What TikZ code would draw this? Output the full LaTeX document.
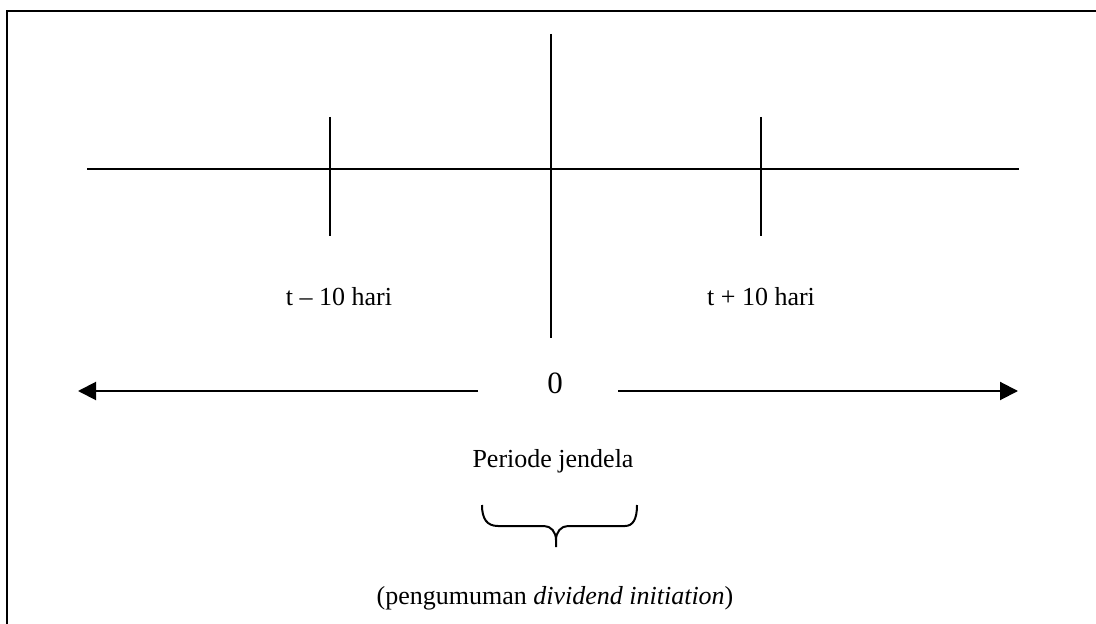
\documentclass[tikz,border=0pt]{standalone}
\usepackage{fontspec}
\setmainfont{Liberation Serif}
\usetikzlibrary{arrows.meta}
\begin{document}
\begin{tikzpicture}[x=0.5pt,y=-0.5pt,
  ln/.style={line width=1pt,black},
  frm/.style={line width=1.3pt,black},
  arr/.style={line width=1pt,-{Triangle[length=9pt,width=9pt]}},
  lbl/.style={inner sep=0pt,font=\fontsize{13}{15}\selectfont},
  brc/.style={line width=1pt}]
\useasboundingbox (0,0) rectangle (1096,624);
% frame (only top and left edges visible)
\draw[frm] (7,624) -- (7,11) -- (1096,11);
% timeline
\coordinate (tl) at (87,169);
\coordinate (tr) at (1019,169);
\draw[ln] (tl) -- (tr);
\coordinate (lt1) at (330,117); \coordinate (lt2) at (330,236);
\draw[ln] (lt1) -- (lt2);
\coordinate (ct1) at (551,34); \coordinate (ct2) at (551,338);
\draw[ln] (ct1) -- (ct2);
\coordinate (rt1) at (761,117); \coordinate (rt2) at (761,236);
\draw[ln] (rt1) -- (rt2);
% labels
\node[lbl] (lminus) at (339,297) {t – 10 hari};
\node[lbl] (lplus) at (761,297) {t + 10 hari};
\node[inner sep=0pt,font=\fontsize{15.5}{18}\selectfont] (zero) at (555,383) {0};
% arrows
\coordinate (al0) at (478,391); \coordinate (al1) at (78,391);
\coordinate (ar0) at (618,391); \coordinate (ar1) at (1018,391);
\draw[arr] (al0) -- (al1);
\draw[arr] (ar0) -- (ar1);
\node[lbl] (per) at (553,461) {Periode jendela};
% brace
\draw[brc] (482,505) .. controls (482,519) and (487,526) .. (498,526) -- (544,526)
  .. controls (551,526) and (556,532) .. (556,540) -- (556,547);
\draw[brc] (556,540) .. controls (556,532) and (561,526) .. (568,526) -- (625,526)
  .. controls (633,526) and (637,519) .. (637,505);
\node[lbl] (ann) at (555,598) {(pengumuman \textit{dividend initiation})};
\end{tikzpicture}
\end{document}
